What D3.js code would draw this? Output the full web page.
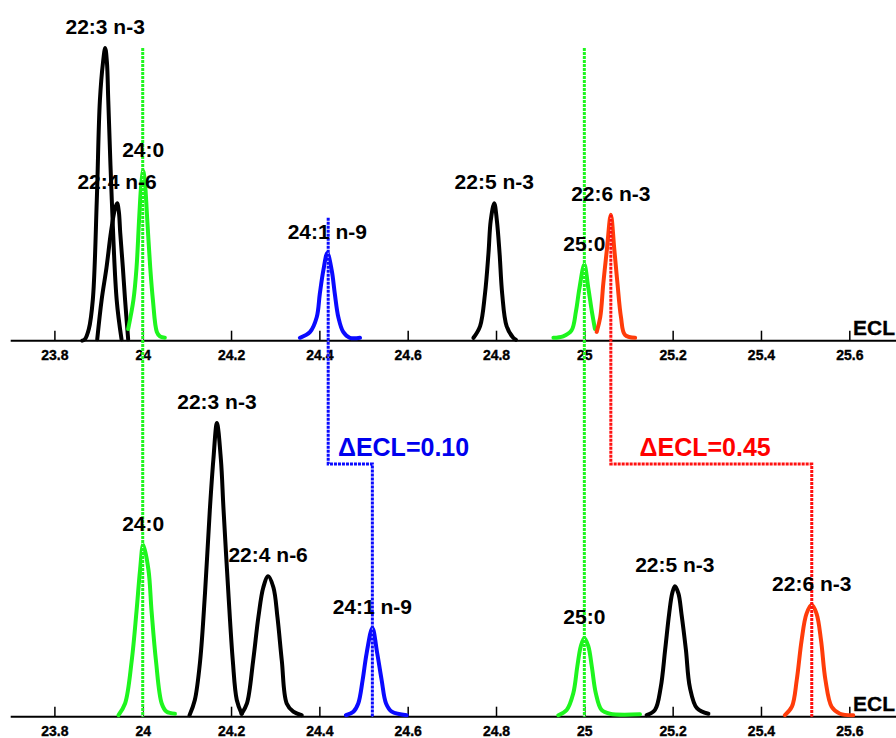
<!DOCTYPE html>
<html>
<head>
<meta charset="utf-8">
<script src="https://cdn.jsdelivr.net/npm/d3@7"></script>
<style>
  body { margin: 0; background: #fff; }
  svg { display: block; }
  svg text { font-family: Arial, "Liberation Sans", Helvetica, sans-serif; font-weight: bold; }
</style>
</head>
<body>
<div id="chart"></div>
<script>

// ECL axis ticks
var tickValues = [23.8, 24.0, 24.2, 24.4, 24.6, 24.8, 25.0, 25.2, 25.4, 25.6];
var tickLabels = ["23.8", "24", "24.2", "24.4", "24.6", "24.8", "25", "25.2", "25.4", "25.6"];

// peak traces, [ECL, relative intensity]  (upper chromatogram)
var top_22_3 = [[23.863,0],[23.869,0.5],[23.878,4],[23.887,14],[23.896,48],[23.903,82],[23.910,95],[23.915,100],[23.919,95],[23.922,82],[23.930,48],[23.941,14],[23.952,0.5]];
var top_22_4 = [[23.897,0.5],[23.907,14],[23.918,25],[23.928,37],[23.937,45],[23.942,47],[23.946,44],[23.949,37],[23.955,25],[23.960,14],[23.967,0.5]];
var top_24_0 = [[23.967,4],[23.979,14],[23.986,25],[23.992,42],[23.997,54],[24.001,58],[24.005,54],[24.010,42],[24.017,25],[24.023,14],[24.032,3],[24.039,1.5],[24.050,1]];
var top_24_1 = [[24.356,1],[24.379,3],[24.394,8],[24.401,16],[24.409,24],[24.418,30],[24.428,24],[24.435,16],[24.443,8],[24.454,3],[24.469,1],[24.492,1]];
var top_22_5 = [[24.749,1],[24.764,5],[24.775,16],[24.783,30],[24.788,41],[24.796,47],[24.802,41],[24.808,30],[24.814,16],[24.824,5],[24.839,1],[24.845,0.3]];
var top_25_0 = [[24.930,1],[24.952,1.5],[24.971,3.5],[24.981,10],[24.989,18],[25.000,26],[25.009,18],[25.017,10],[25.024,4]];
var top_22_6 = [[25.028,3],[25.036,8],[25.043,19.6],[25.051,31],[25.060,43],[25.068,31],[25.075,19.6],[25.083,8],[25.092,2],[25.115,1]];

// lower chromatogram
var bot_24_0 = [[23.945,0.5],[23.960,4.5],[23.975,19],[23.986,36],[23.994,50],[24.001,58.6],[24.013,50],[24.020,36],[24.030,19],[24.043,4.5],[24.054,1.7],[24.073,1]];
var bot_22_3 = [[24.106,0.5],[24.118,5.7],[24.130,19],[24.141,42],[24.152,70.5],[24.160,87.6],[24.168,100],[24.177,87.6],[24.183,70.5],[24.194,42],[24.204,19],[24.213,5.7],[24.224,1]];
var bot_22_4 = [[24.224,1],[24.236,4.5],[24.250,19],[24.262,34],[24.273,44],[24.284,47.8],[24.296,44],[24.305,34],[24.315,19],[24.326,4.5],[24.341,1.7],[24.360,0.5]];
var bot_24_1 = [[24.460,0.5],[24.477,1.7],[24.488,4.5],[24.498,12.5],[24.507,21.6],[24.520,30.2],[24.531,21.6],[24.541,12.5],[24.551,4.5],[24.564,1.7],[24.598,0.5]];
var bot_25_0 = [[24.941,0.5],[24.960,2.3],[24.975,8],[24.984,17],[24.992,24],[25.000,26.8],[25.009,24],[25.017,17],[25.026,8],[25.039,2.3],[25.058,1],[25.126,0.8]];
var bot_22_5 = [[25.141,0.5],[25.160,2.3],[25.173,10],[25.183,22.8],[25.192,35],[25.199,42],[25.205,44.4],[25.213,42],[25.220,35],[25.230,22.8],[25.239,10],[25.255,2.9],[25.281,1]];
var bot_22_6 = [[25.454,0.5],[25.470,3.4],[25.481,12.5],[25.492,26],[25.503,35],[25.515,38.1],[25.526,35],[25.536,26],[25.546,12.5],[25.560,3.4],[25.579,1],[25.609,0.5]];

// saturated standards (vertical reference lines)
var standardECL = [24.0, 25.0];

// ECL shifts between the two runs
var shiftFrom = [24.42, 25.06];
var shiftTo = [24.52, 25.515];
var shiftStart = [42, 43];           // intensity where the dotted line starts (upper run)
var shiftLabels = ["\u0394ECL=0.10", "\u0394ECL=0.45"];
var shiftLabelECL = [24.442, 25.125];

var colBlack = "#000000", colGreen = "#1ef51e", colBlue = "#0a0aff", colRed = "#ff3c0a";

var topPeaks = [
    {label: "22:3 n-3", color: colBlack, pts: top_22_3},
    {label: "22:4 n-6", color: colBlack, pts: top_22_4},
    {label: "24:0", color: colGreen, pts: top_24_0},
    {label: "24:1 n-9", color: colBlue, pts: top_24_1},
    {label: "22:5 n-3", color: colBlack, pts: top_22_5},
    {label: "25:0", color: colGreen, pts: top_25_0},
    {label: "22:6 n-3", color: colRed, pts: top_22_6}
];
var botPeaks = [
    {label: "24:0", color: colGreen, pts: bot_24_0},
    {label: "22:3 n-3", color: colBlack, pts: bot_22_3},
    {label: "22:4 n-6", color: colBlack, pts: bot_22_4},
    {label: "24:1 n-9", color: colBlue, pts: bot_24_1},
    {label: "25:0", color: colGreen, pts: bot_25_0},
    {label: "22:5 n-3", color: colBlack, pts: bot_22_5},
    {label: "22:6 n-3", color: colRed, pts: bot_22_6}
];
var shiftColors = ["#0a0aff", "#ff1010"];
var shiftTextColors = ["#0000ee", "#ff0000"];

var width = 896, height = 738;
var fontStack = "Arial, 'Liberation Sans', Helvetica, sans-serif";

var svg = d3.select("#chart").append("svg")
    .attr("width", width)
    .attr("height", height);

svg.append("rect").attr("width", width).attr("height", height).attr("fill", "#fff");

var x = d3.scaleLinear().domain([23.8, 25.6]).range([54.4, 849.3]);
var yTop = d3.scaleLinear().domain([0, 100]).range([340.7, 48]);
var yBot = d3.scaleLinear().domain([0, 100]).range([716.7, 423]);
var midY = 464;

// one panel: baseline, ticks, ECL title
function drawAxis(y) {
    var g = svg.append("g").attr("transform", "translate(0," + y(0) + ")");
    var axis = d3.axisBottom(x)
        .tickValues(tickValues)
        .tickFormat(function (d, i) { return tickLabels[i]; })
        .tickSizeInner(-10)
        .tickSizeOuter(0)
        .tickPadding(9);
    g.call(axis);
    g.attr("font-family", fontStack).attr("font-size", 14).attr("font-weight", "bold");
    g.select(".domain").remove();
    g.selectAll(".tick line").attr("stroke", "#000").attr("stroke-width", 1.5);
    g.selectAll(".tick text")
        .attr("fill", "#000")
        .attr("stroke", "#000")
        .attr("stroke-width", 0.35)
        .attr("font-size", 14)
        .attr("font-weight", "bold");
    g.append("line")
        .attr("x1", 10.7).attr("x2", width)
        .attr("stroke", "#000").attr("stroke-width", 2);
    g.append("text")
        .attr("x", 853).attr("y", -5.7)
        .attr("text-anchor", "start")
        .attr("fill", "#000")
        .attr("stroke", "#000")
        .attr("stroke-width", 0.3)
        .attr("font-size", 21)
        .attr("font-weight", "bold")
        .text("ECL");
}

function drawPeaks(peaks, y) {
    var line = d3.line()
        .x(function (d) { return x(d[0]); })
        .y(function (d) { return y(d[1]); })
        .curve(d3.curveCatmullRom.alpha(0.5));

    var g = svg.append("g");
    peaks.forEach(function (p) {
        g.append("path")
            .datum(p.pts)
            .attr("d", line)
            .attr("fill", "none")
            .attr("stroke", p.color)
            .attr("stroke-width", 4)
            .attr("stroke-linejoin", "round")
            .attr("stroke-linecap", "round");
    });
}

function drawLabels(peaks, y) {
    peaks.forEach(function (p) {
        var apex = d3.greatest(p.pts, function (d) { return d[1]; });
        svg.append("text")
            .attr("x", x(apex[0]))
            .attr("y", y(apex[1]) - 14)
            .attr("text-anchor", "middle")
            .attr("fill", "#000")
            .attr("font-size", 21)
            .text(p.label);
    });
}

// dotted line: thin white core with coloured dashes on top
function dotted(pathStr, color) {
    svg.append("path").attr("d", pathStr)
        .attr("fill", "none").attr("stroke", "#fff").attr("stroke-width", 1);
    svg.append("path").attr("d", pathStr)
        .attr("fill", "none").attr("stroke", color).attr("stroke-width", 3)
        .attr("stroke-dasharray", "3,1");
}

drawAxis(yTop);
drawAxis(yBot);
drawPeaks(topPeaks, yTop);
drawPeaks(botPeaks, yBot);

standardECL.forEach(function (v) {
    var p = d3.path();
    p.moveTo(x(v), yTop(100));
    p.lineTo(x(v), yBot(0));
    dotted(p.toString(), colGreen);
});

shiftFrom.forEach(function (v, i) {
    var p = d3.path();
    p.moveTo(x(v), yTop(shiftStart[i]));
    p.lineTo(x(v), midY);
    p.lineTo(x(shiftTo[i]), midY);
    p.lineTo(x(shiftTo[i]), yBot(0));
    dotted(p.toString(), shiftColors[i]);
    svg.append("text")
        .attr("x", x(shiftLabelECL[i]))
        .attr("y", midY - 8)
        .attr("fill", shiftTextColors[i])
        .attr("font-size", 25)
        .text(shiftLabels[i]);
});

drawLabels(topPeaks, yTop);
drawLabels(botPeaks, yBot);

</script>
</body>
</html>
